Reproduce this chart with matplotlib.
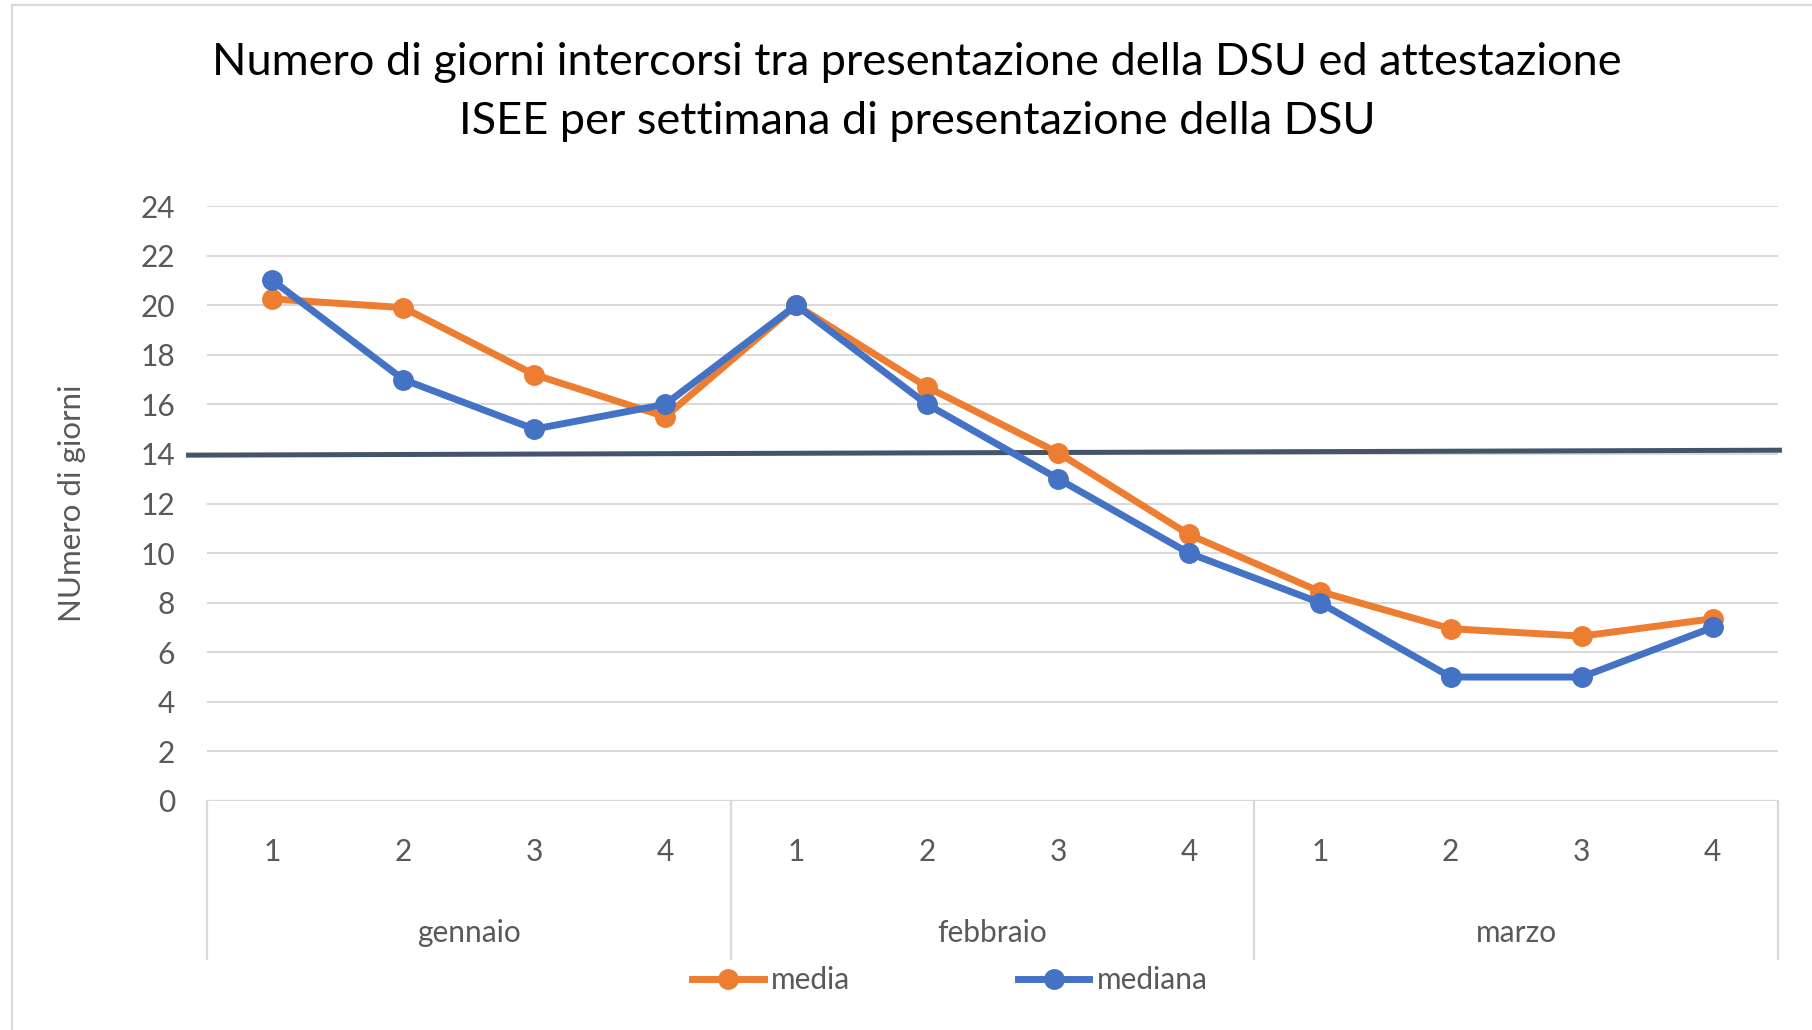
import matplotlib
matplotlib.use("Agg")
import matplotlib.pyplot as plt
from matplotlib.lines import Line2D
import numpy as np

# ---- data ----
months = ["gennaio", "febbraio", "marzo"]
weeks = ["1", "2", "3", "4"]
media = [20.25, 19.9, 17.2, 15.5, 20.0, 16.7, 14.05, 10.75, 8.45, 6.95, 6.65, 7.35]
mediana = [21, 17, 15, 16, 20, 16, 13, 10, 8, 5, 5, 7]
yticks = list(range(0, 25, 2))
ref_line_y = [13.95, 14.15]
title = ("Numero di giorni intercorsi tra presentazione della DSU ed attestazione\n"
         "ISEE per settimana di presentazione della DSU")
ylabel = "NUmero di giorni"

FONT = "Lato"
TXT = "#595959"
GRID = "#D9D9D9"
ORANGE = "#ED7D31"
BLUE = "#4472C4"
REFC = "#44546A"
FS = 21.5

plt.rcParams["font.family"] = [FONT, "DejaVu Sans"]

W, H = 1812, 1030
fig = plt.figure(figsize=(W / 100, H / 100), dpi=100)
fig.patch.set_facecolor("white")

# chart border (left and top visible)
fig.add_artist(Line2D([12 / W, 12 / W], [0, 1 - 5 / H], transform=fig.transFigure,
                      color=GRID, lw=1.6))
fig.add_artist(Line2D([12 / W, 1], [1 - 5 / H, 1 - 5 / H], transform=fig.transFigure,
                      color=GRID, lw=1.6))

ax_l, ax_r, ax_b, ax_t = 207, 1778, 801, 206
ax = fig.add_axes([ax_l / W, 1 - ax_b / H, (ax_r - ax_l) / W, (ax_b - ax_t) / H])

n = len(media)
x = np.arange(n)
ax.set_xlim(-0.5, n - 0.5)
ax.set_ylim(0, 24)
ax.set_yticks(yticks)
ax.set_yticklabels([str(v) for v in yticks], fontsize=FS, color=TXT)
ax.tick_params(axis="y", length=0, pad=23)
ax.set_xticks([])
for s in ax.spines.values():
    s.set_visible(False)
ax.grid(axis="y", color=GRID, lw=1.4)
ax.set_axisbelow(True)

# category axis baseline and separators
ax.axhline(0, color=GRID, lw=1.6, zorder=1)
sep_bottom = -(959 - ax_b) / (ax_b - ax_t)
for xs in [-0.5, 3.5, 7.5, 11.5]:
    ax.plot([xs, xs], [0, sep_bottom], transform=ax.get_xaxis_transform(),
            color=GRID, lw=1.6, clip_on=False)

week_y = -(852 - ax_b) / (ax_b - ax_t)
month_y = -(933 - ax_b) / (ax_b - ax_t)
for i in range(n):
    ax.text(i, week_y, weeks[i % 4], transform=ax.get_xaxis_transform(),
            ha="center", va="center", fontsize=FS, color=TXT)
for j, m in enumerate(months):
    ax.text(j * 4 + 1.5, month_y, m, transform=ax.get_xaxis_transform(),
            ha="center", va="center", fontsize=FS, color=TXT)

# reference line (drawn shape)
ax.plot([-0.66, 11.53], ref_line_y, color=REFC, lw=3.6, clip_on=False, zorder=2,
        solid_capstyle="butt")

l1, = ax.plot(x, media, color=ORANGE, lw=5, marker="o", ms=14, zorder=3,
              solid_joinstyle="round", label="media")
l2, = ax.plot(x, mediana, color=BLUE, lw=5, marker="o", ms=14, zorder=4,
              solid_joinstyle="round", label="mediana")

ax.set_ylabel(ylabel, fontsize=22.5, color=TXT)
ax.yaxis.label.set_va("center")
ax.yaxis.set_label_coords((72 - ax_l) / (ax_r - ax_l), 0.5)

fig.text(917 / W, 1 - 92 / H, title, ha="center", va="center", fontsize=32.5,
         color="black", linespacing=1.57)

fig.legend(handles=[l1, l2], loc="center", bbox_to_anchor=(950 / W, 1 - 980 / H),
           ncol=2, frameon=False, fontsize=FS, labelcolor=TXT, handlelength=2.4,
           handletextpad=0.25, columnspacing=5.6, markerscale=1.0)

fig.savefig("out.png", dpi=100, facecolor="white")
